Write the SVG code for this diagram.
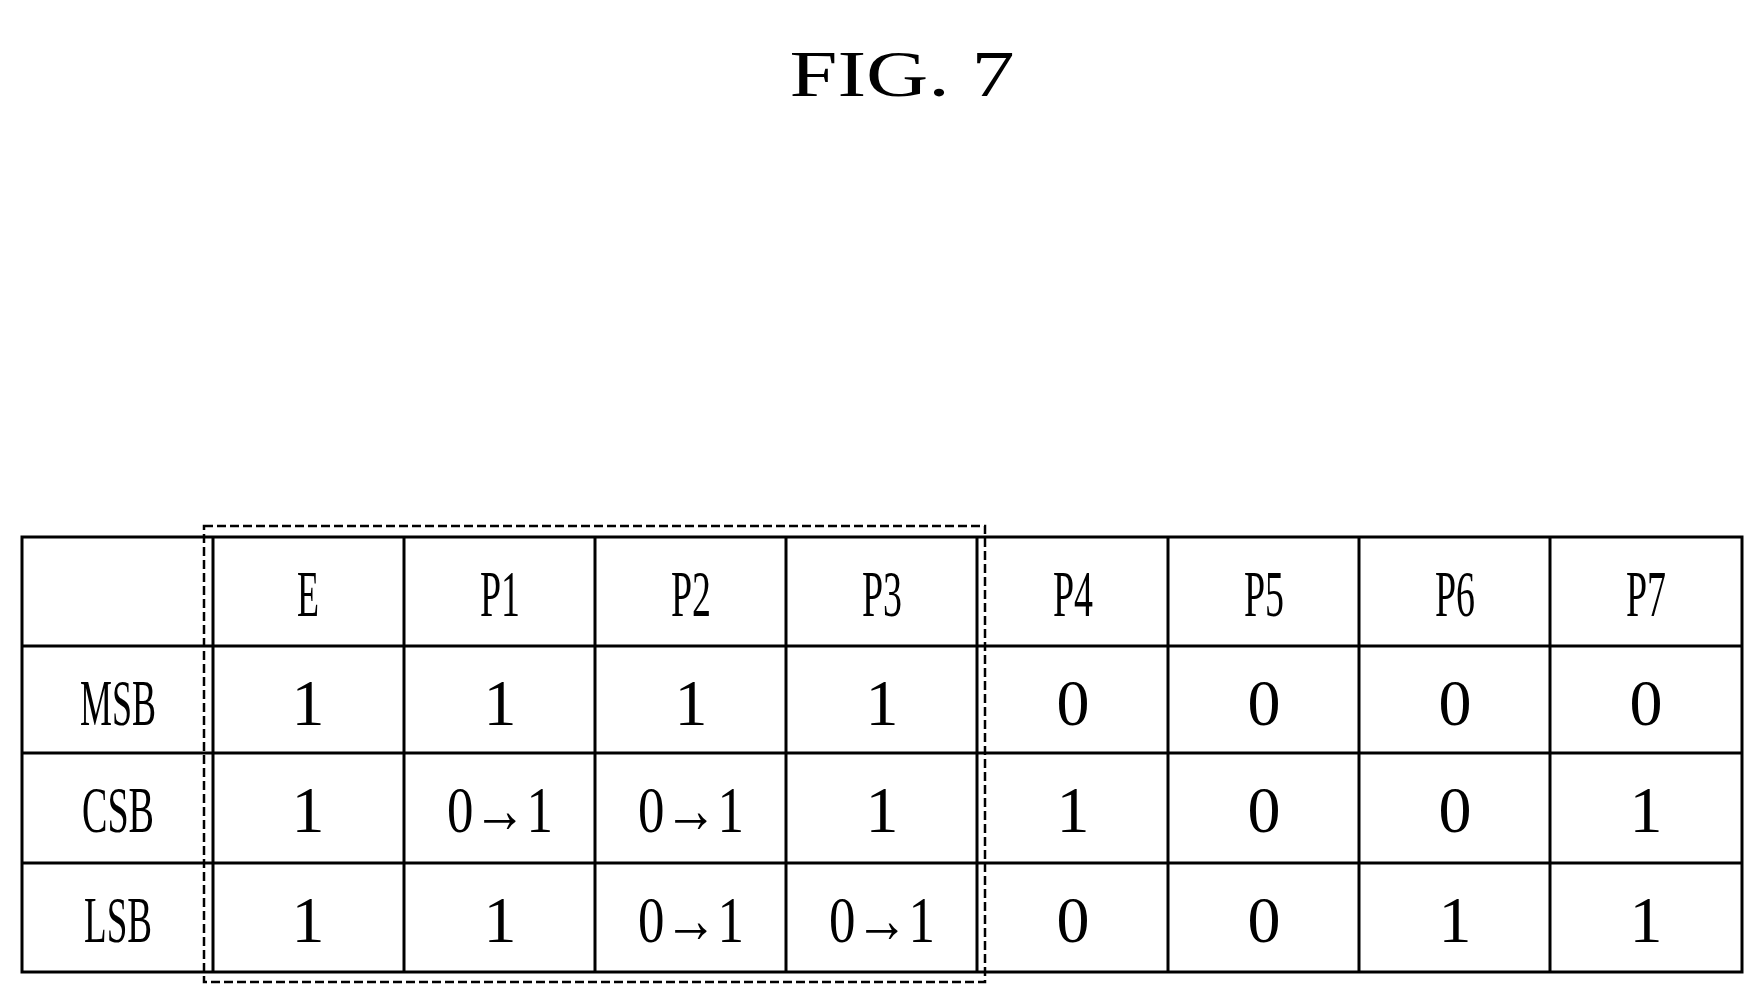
<svg xmlns="http://www.w3.org/2000/svg" width="1762" height="1004" viewBox="0 0 1762 1004">
<style>
.g{stroke:#000;stroke-width:3;fill:none}
.d{stroke:#000;stroke-width:2.5;fill:none;stroke-dasharray:9 4}
text{font-family:"Liberation Serif",serif;font-size:66px;text-anchor:middle;fill:#000}
</style>
<rect width="1762" height="1004" fill="#fff"/>
<text x="902" y="96" font-size="100" textLength="225" lengthAdjust="spacingAndGlyphs">FIG. 7</text>
<g id="table">
<rect class="g" x="22" y="537" width="1720" height="435"/>
<path class="g" d="M213 537V972M404 537V972M595 537V972M786 537V972M977 537V972M1168 537V972M1359 537V972M1550 537V972M22 646H1742M22 753H1742M22 863H1742"/>
</g>
<g id="highlight"><rect class="d" x="204" y="526" width="781" height="456"/></g>
<g id="labels">
<text x="308" y="616" textLength="22" lengthAdjust="spacingAndGlyphs">E</text>
<text x="500" y="616" textLength="40" lengthAdjust="spacingAndGlyphs">P1</text>
<text x="691" y="616" textLength="40" lengthAdjust="spacingAndGlyphs">P2</text>
<text x="882" y="616" textLength="40" lengthAdjust="spacingAndGlyphs">P3</text>
<text x="1073" y="616" textLength="40" lengthAdjust="spacingAndGlyphs">P4</text>
<text x="1264" y="616" textLength="40" lengthAdjust="spacingAndGlyphs">P5</text>
<text x="1455" y="616" textLength="40" lengthAdjust="spacingAndGlyphs">P6</text>
<text x="1646" y="616" textLength="40" lengthAdjust="spacingAndGlyphs">P7</text>
<text x="118" y="725" textLength="76" lengthAdjust="spacingAndGlyphs">MSB</text>
<text x="118" y="832" textLength="72" lengthAdjust="spacingAndGlyphs">CSB</text>
<text x="118" y="942" textLength="68" lengthAdjust="spacingAndGlyphs">LSB</text>
<g>
<text x="308" y="725">1</text><text x="500" y="725">1</text><text x="691" y="725">1</text><text x="882" y="725">1</text>
<text x="1073" y="725">0</text><text x="1264" y="725">0</text><text x="1455" y="725">0</text><text x="1646" y="725">0</text>
<text x="308" y="832">1</text>
<text x="500" y="832" textLength="106" lengthAdjust="spacingAndGlyphs">0→1</text>
<text x="691" y="832" textLength="106" lengthAdjust="spacingAndGlyphs">0→1</text>
<text x="882" y="832">1</text><text x="1073" y="832">1</text><text x="1264" y="832">0</text><text x="1455" y="832">0</text><text x="1646" y="832">1</text>
<text x="308" y="942">1</text><text x="500" y="942">1</text>
<text x="691" y="942" textLength="106" lengthAdjust="spacingAndGlyphs">0→1</text>
<text x="882" y="942" textLength="106" lengthAdjust="spacingAndGlyphs">0→1</text>
<text x="1073" y="942">0</text><text x="1264" y="942">0</text><text x="1455" y="942">1</text><text x="1646" y="942">1</text>
</g>
</g>
</svg>
